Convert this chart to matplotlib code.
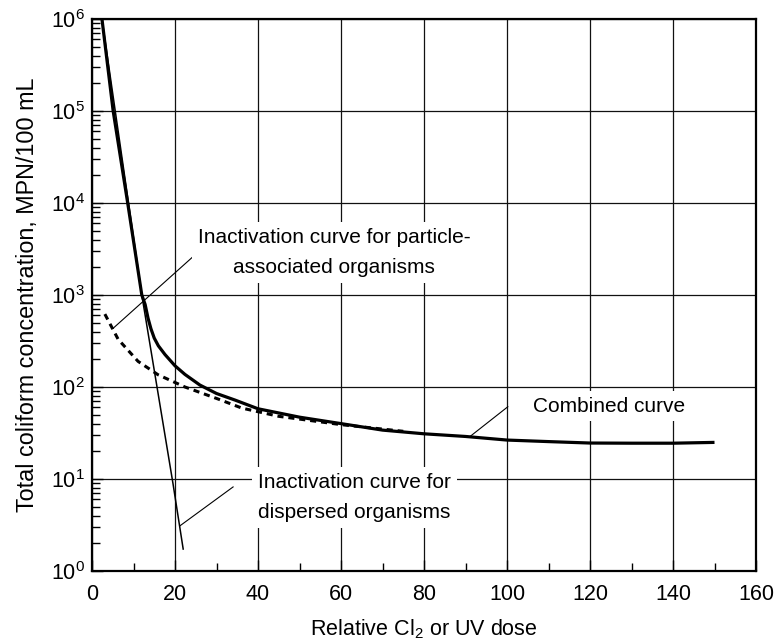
import matplotlib
matplotlib.use("Agg")
import matplotlib.pyplot as plt
from matplotlib.ticker import FixedLocator, LogLocator, NullFormatter

# ---------------- data ----------------
combined_x = [2.4, 5.1, 8.6, 12, 12.8, 13.5, 14.2, 15, 16, 17.6, 20, 22.4, 26, 30,
              34.5, 40, 50, 60, 70, 80, 90, 100, 110, 120, 130, 140, 150]
combined_y = [1e6, 1e5, 1e4, 1e3, 790, 560, 430, 340, 280, 225, 170, 137, 105, 85,
              72, 58, 47, 40, 34, 31, 29, 26.5, 25.5, 24.6, 24.5, 24.5, 25]

dispersed_x = [2.4, 12, 19.5, 22]
dispersed_y = [1e6, 1e3, 9, 1.7]

particle_x = [3.1, 6.3, 11.1, 15.9, 22.4, 30.4, 36.1, 45, 60, 75]
particle_y = [620, 330, 190, 136, 100, 74, 59, 48, 39, 33]

x_ticks = [0, 20, 40, 60, 80, 100, 120, 140, 160]
x_tick_labels = ["0", "20", "40", "60", "80", "100", "120", "140", "160"]
y_ticks = [1e0, 1e1, 1e2, 1e3, 1e4, 1e5, 1e6]
y_tick_labels = [r"$10^{0}$", r"$10^{1}$", r"$10^{2}$", r"$10^{3}$",
                 r"$10^{4}$", r"$10^{5}$", r"$10^{6}$"]

label_particle = "Inactivation curve for particle-\nassociated organisms"
label_dispersed = "Inactivation curve for\ndispersed organisms"
label_combined = "Combined curve"
x_label = r"Relative Cl$_2$ or UV dose"
y_label = "Total coliform concentration, MPN/100 mL"

# ---------------- style ----------------
plt.rcParams["font.family"] = ["Liberation Sans", "DejaVu Sans"]
plt.rcParams["mathtext.fontset"] = "custom"
plt.rcParams["mathtext.rm"] = "Liberation Sans"
plt.rcParams["mathtext.it"] = "Liberation Sans:italic"
plt.rcParams["mathtext.bf"] = "Liberation Sans:bold"
plt.rcParams["mathtext.default"] = "regular"

fig = plt.figure(figsize=(7.76, 6.42), dpi=100)
ax = fig.add_axes([92 / 776, 1 - 571 / 642, (756 - 92) / 776, (571 - 19) / 642])

ax.set_yscale("log")
ax.set_xlim(0, 160)
ax.set_ylim(1, 1e6)

# grid
ax.grid(True, which="major", color="#111111", lw=0.9)
ax.set_axisbelow(True)

# curves
ax.plot(dispersed_x, dispersed_y, color="black", lw=1.1, solid_capstyle="butt")
ax.plot(particle_x, particle_y, color="black", lw=2.2, ls=(0, (2.0, 1.6)))
ax.plot(combined_x, combined_y, color="black", lw=2.3, solid_capstyle="butt",
        solid_joinstyle="round")

# annotations
lead = dict(color="black", lw=0.8)
ax.plot([24.3, 5.1], [2600, 435], **lead)
ax.plot([100.2, 91.1], [61, 29], **lead)
ax.plot([34.0, 21.2], [8.2, 3.1], **lead)

ann_fs = 15
box = dict(facecolor="white", edgecolor="none", pad=4)
ax.text(58.3, 2880, label_particle, ha="center", va="center",
        multialignment="center", fontsize=ann_fs, linespacing=1.75, bbox=box)
ax.text(124.6, 62, label_combined, ha="center", va="center", fontsize=ann_fs,
        bbox=box)
ax.text(40.0, 6.3, label_dispersed, ha="left", va="center", fontsize=ann_fs,
        linespacing=1.75, bbox=box)

# ticks
ax.xaxis.set_major_locator(FixedLocator(x_ticks))
ax.set_xticklabels(x_tick_labels)
ax.xaxis.set_minor_locator(FixedLocator(list(range(10, 160, 20))))
ax.yaxis.set_major_locator(FixedLocator(y_ticks))
ax.set_yticklabels(y_tick_labels)
ax.yaxis.set_minor_locator(LogLocator(base=10, subs=range(2, 10), numticks=20))
ax.yaxis.set_minor_formatter(NullFormatter())

ax.tick_params(axis="both", which="major", direction="in", length=8, width=1,
               labelsize=15.5, colors="black")
ax.tick_params(axis="x", which="major", pad=9)
ax.tick_params(axis="y", which="major", pad=5)
ax.tick_params(axis="both", which="minor", direction="in", length=6, width=1)

for s in ax.spines.values():
    s.set_linewidth(1.6)
    s.set_color("black")

ax.set_xlabel(x_label, fontsize=15.5, labelpad=9)
ax.set_ylabel(y_label, fontsize=16.8, labelpad=9)

fig.savefig("out.png", dpi=100)
